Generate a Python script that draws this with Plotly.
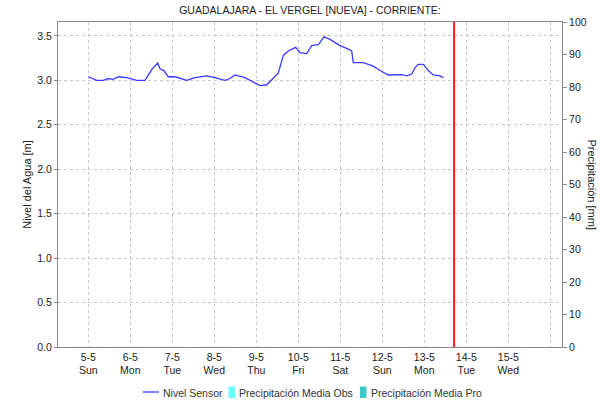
import plotly.graph_objects as go

# Water level readings (time, metres)
nivel_time = [
    "2024-05-05 00:00", "2024-05-05 04:48", "2024-05-05 08:34", "2024-05-05 11:26",
    "2024-05-05 14:07", "2024-05-05 17:09", "2024-05-05 21:57", "2024-05-06 03:39",
    "2024-05-06 08:24", "2024-05-06 12:14", "2024-05-06 15:39", "2024-05-06 16:58",
    "2024-05-06 19:13", "2024-05-06 21:43", "2024-05-07 01:32", "2024-05-07 08:14",
    "2024-05-07 12:58", "2024-05-07 19:39", "2024-05-08 00:24", "2024-05-08 06:07",
    "2024-05-08 08:58", "2024-05-08 11:50", "2024-05-08 17:33", "2024-05-08 22:17",
    "2024-05-09 02:07", "2024-05-09 05:57", "2024-05-09 10:41", "2024-05-09 12:34",
    "2024-05-09 15:26", "2024-05-09 18:17", "2024-05-09 22:30", "2024-05-10 00:58",
    "2024-05-10 04:48", "2024-05-10 07:39", "2024-05-10 11:25", "2024-05-10 14:41",
    "2024-05-10 18:07", "2024-05-10 23:50", "2024-05-11 03:39", "2024-05-11 06:30",
    "2024-05-11 07:26", "2024-05-11 13:09", "2024-05-11 18:51", "2024-05-11 22:41",
    "2024-05-12 03:26", "2024-05-12 07:15", "2024-05-12 11:05", "2024-05-12 13:57",
    "2024-05-12 16:48", "2024-05-12 18:41", "2024-05-12 20:34", "2024-05-12 23:26",
    "2024-05-13 02:17", "2024-05-13 05:09", "2024-05-13 08:58", "2024-05-13 10:51",
]
nivel_value = [
    3.04, 3.00, 3.00, 3.02,
    3.01, 3.04, 3.03, 3.00,
    3.00, 3.12, 3.195, 3.13,
    3.11, 3.04, 3.04, 3.00,
    3.03, 3.05, 3.03, 3.00,
    3.02, 3.06, 3.03, 2.98,
    2.94, 2.95, 3.04, 3.08,
    3.28, 3.33, 3.37, 3.31,
    3.30, 3.39, 3.40, 3.49,
    3.46, 3.39, 3.36, 3.33,
    3.20, 3.20, 3.16, 3.11,
    3.06, 3.06, 3.065, 3.05,
    3.07, 3.14, 3.18, 3.18,
    3.11, 3.06, 3.05, 3.03,
]

# Daily precipitation (mm)
precip_days = ["2024-05-05", "2024-05-06", "2024-05-07", "2024-05-08", "2024-05-09",
               "2024-05-10", "2024-05-11", "2024-05-12", "2024-05-13", "2024-05-14",
               "2024-05-15"]
precip_obs = [0, 0, 0, 0, 0, 0, 0, 0, 0, 0, 0]
precip_pro = [0, 0, 0, 0, 0, 0, 0, 0, 0, 0, 0]

# Day ticks
tick_dates = ["2024-05-05", "2024-05-06", "2024-05-07", "2024-05-08", "2024-05-09",
              "2024-05-10", "2024-05-11", "2024-05-12", "2024-05-13", "2024-05-14",
              "2024-05-15", "2024-05-16"]
tick_labels = ["5-5<br>Sun", "6-5<br>Mon", "7-5<br>Tue", "8-5<br>Wed", "9-5<br>Thu",
               "10-5<br>Fri", "11-5<br>Sat", "12-5<br>Sun", "13-5<br>Mon", "14-5<br>Tue",
               "15-5<br>Wed", ""]

now_time = "2024-05-13 17:00"
x_range = ["2024-05-04 06:41", "2024-05-16 06:41"]

FONT = "Liberation Sans, Arial, sans-serif"
AXIS_GREY = "#888888"
GRID = "#c8c8c8"
TEXT = "#222222"

LINE_BLUE = "#3a3aff"
OBS_CYAN = "#66ffff"
PRO_TEAL = "#3cc8c8"

# plot box in pixels: left 58, right 562, top 22, bottom 347
W, H = 600, 401
L, R, T, B = 58, 38, 22, 54
PW, PH = W - L - R, H - T - B


def px_x(px):
    return (px - L) / PW


def px_y(py):
    return (H - B - py) / PH


fig = go.Figure()

fig.add_trace(go.Scatter(
    x=nivel_time, y=nivel_value, mode="lines", name="Nivel Sensor",
    line=dict(color=LINE_BLUE, width=1.3), showlegend=False,
))
fig.add_trace(go.Bar(
    x=precip_days, y=precip_obs, name="Precipitación Media Obs",
    marker=dict(color=OBS_CYAN), yaxis="y2", showlegend=False,
))
fig.add_trace(go.Bar(
    x=precip_days, y=precip_pro, name="Precipitación Media Pro",
    marker=dict(color=PRO_TEAL), yaxis="y2", showlegend=False,
))

shapes = [
    # current-time marker
    dict(type="line", xref="x", yref="paper", x0=now_time, x1=now_time,
         y0=0, y1=1, line=dict(color="#ff2020", width=2)),
    # legend keys
    dict(type="line", xref="paper", yref="paper",
         x0=px_x(143), x1=px_x(159), y0=px_y(392), y1=px_y(392),
         line=dict(color=LINE_BLUE, width=1.3)),
    dict(type="rect", xref="paper", yref="paper",
         x0=px_x(228.5), x1=px_x(235), y0=px_y(398), y1=px_y(386.5),
         line=dict(width=0), fillcolor=OBS_CYAN),
    dict(type="rect", xref="paper", yref="paper",
         x0=px_x(360), x1=px_x(366.5), y0=px_y(398), y1=px_y(386.5),
         line=dict(width=0), fillcolor=PRO_TEAL),
]

legend_labels = [("Nivel Sensor", 161), ("Precipitación Media Obs", 237),
                 ("Precipitación Media Pro", 368.5)]
annotations = [dict(
    text="Precipitación [mm]", xref="paper", yref="paper",
    x=1.0, xshift=30, y=0.5, textangle=90, showarrow=False,
    xanchor="center", yanchor="middle",
    font=dict(family=FONT, size=11, color=TEXT),
)]
for label, x0 in legend_labels:
    annotations.append(dict(
        text=label, xref="paper", yref="paper", x=px_x(x0), y=px_y(392.5),
        xanchor="left", yanchor="middle", showarrow=False,
        font=dict(family=FONT, size=10.5, color="#333333"),
    ))

fig.update_layout(
    width=W, height=H,
    margin=dict(l=L, r=R, t=T, b=B),
    paper_bgcolor="white", plot_bgcolor="white",
    font=dict(family=FONT, size=10.5, color=TEXT),
    title=dict(text="GUADALAJARA - EL VERGEL [NUEVA] - CORRIENTE:",
               x=0.5, xref="paper", xanchor="center", y=0.975, yanchor="middle",
               font=dict(family=FONT, size=10.5, color=TEXT)),
    showlegend=False,
    bargap=0.2,
    xaxis=dict(
        type="date", range=x_range,
        tickmode="array", tickvals=tick_dates, ticktext=tick_labels,
        showgrid=True, gridcolor=GRID, griddash="dot", gridwidth=1,
        showline=True, linecolor=AXIS_GREY, linewidth=1, mirror=True,
        ticks="", tickfont=dict(size=10.5, color=TEXT),
        zeroline=False,
    ),
    yaxis=dict(
        range=[0, 3.656], tickmode="array",
        tickvals=[0, 0.5, 1.0, 1.5, 2.0, 2.5, 3.0, 3.5],
        ticktext=["0.0", "0.5", "1.0", "1.5", "2.0", "2.5", "3.0", "3.5"],
        showgrid=True, gridcolor=GRID, griddash="dot", gridwidth=1,
        showline=True, linecolor=AXIS_GREY, linewidth=1,
        ticks="outside", ticklen=3, tickcolor=AXIS_GREY,
        tickfont=dict(size=10.5, color=TEXT),
        title=dict(text="Nivel del Agua [m]", standoff=3,
                   font=dict(size=11, color=TEXT)),
        zeroline=False,
    ),
    yaxis2=dict(
        overlaying="y", side="right", range=[0, 100],
        tickmode="array", tickvals=list(range(0, 101, 10)),
        showgrid=False, showline=True, linecolor=AXIS_GREY, linewidth=1,
        ticks="outside", ticklen=4, tickcolor=AXIS_GREY,
        tickfont=dict(size=10.5, color=TEXT),
        zeroline=False,
    ),
    shapes=shapes,
    annotations=annotations,
)

fig.write_html("out.html")
